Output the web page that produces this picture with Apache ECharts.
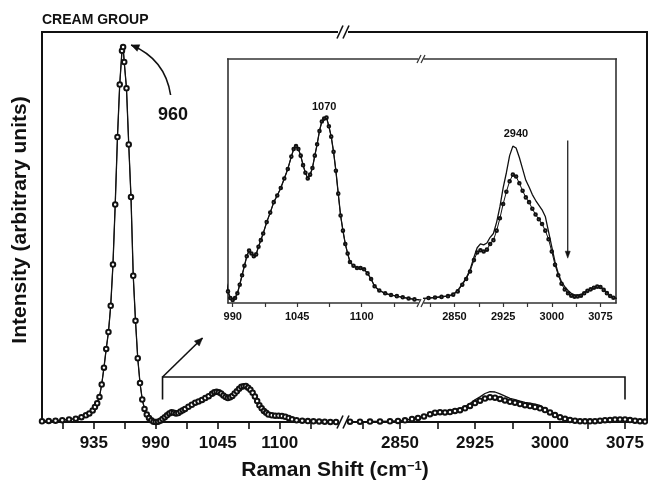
<!DOCTYPE html>
<html><head><meta charset="utf-8">
<script src="https://cdn.jsdelivr.net/npm/echarts@6/dist/echarts.min.js"></script>
<style>html,body{margin:0;padding:0;background:#fff}#c{width:648px;height:480px}</style>
</head><body><div id="c"></div>
<script>
// ---------------- data ----------------
const groupTitle = 'CREAM GROUP';
const yTitle = 'Intensity (arbitrary units)';
const peakLabels = ['960', '1070', '2940'];

// Low-wavenumber segment (both spectra coincide here)
const shiftLow = [889,895,901,907,913,919,924,928,931,934,
  936,938,940,942,944,946,948,950,952,954,
  956,958,960,961,962,964,966,968,970,972,
  974,976,978,980,982,984,986,988,990,992,
  994,996,998,1000,1002,1004,1006,1008,1010,1012,
  1014,1016,1019,1022,1025,1028,1031,1034,1037,1040,
  1042,1044,1046,1048,1050,1052,1054,1056,1058,1060,
  1062,1064,1066,1068,1070,1072,1074,1076,1078,1080,
  1082,1084,1086,1088,1090,1093,1096,1099,1102,1105,
  1108,1111,1115,1120,1125,1130,1135,1140,1145,1150];
const intensityLow = [0.2,0.3,0.35,0.5,0.7,0.9,1.3,1.8,2.3,3.1,
  4.0,5.0,6.7,10,14.5,19.5,24,31,42,58,
  76,90,99,100,96,89,74,60,39,27,
  17,10.4,6,3.5,2,1.1,0.45,0.1,0.0,0.1,
  0.35,0.8,1.3,1.8,2.3,2.6,2.45,2.3,2.4,2.8,
  3.15,3.5,4.1,4.6,5.15,5.5,5.9,6.4,6.9,7.55,
  7.95,8.1,7.95,7.6,7.1,6.7,6.4,6.6,6.95,7.6,
  8.2,8.9,9.4,9.55,9.6,9.15,8.6,7.8,6.8,5.6,
  4.45,3.65,2.95,2.45,2.0,1.8,1.68,1.68,1.62,1.4,
  1.1,0.72,0.5,0.35,0.26,0.2,0.14,0.08,0.03,0.0];

// High-wavenumber segment
const shiftHigh = [2800,2810,2820,2830,2840,2848,2855,2862,2868,2874,
  2880,2885,2890,2895,2900,2905,2910,2915,2920,2925,
  2930,2935,2940,2945,2950,2955,2960,2965,2970,2975,
  2980,2985,2990,2995,3000,3005,3010,3015,3020,3025,
  3030,3035,3040,3045,3050,3055,3060,3065,3070,3075,
  3080,3085,3090,3095,3100];
const intensitySolidHigh = [0.08,0.1,0.13,0.17,0.22,0.3,0.5,0.85,1.15,1.6,
  2.25,2.75,2.95,2.9,3.0,3.3,3.5,4.1,4.9,5.9,
  6.7,7.6,8.1,8.0,7.5,6.9,6.3,5.95,5.55,5.25,
  5.0,4.75,4.4,3.6,2.8,2.0,1.4,0.95,0.7,0.5,
  0.35,0.27,0.27,0.28,0.38,0.5,0.58,0.66,0.72,0.7,
  0.55,0.37,0.22,0.12,0.08];
const intensityMarkedHigh = [0.08,0.1,0.13,0.16,0.2,0.28,0.45,0.8,1.1,1.5,
  2.1,2.5,2.62,2.55,2.65,2.95,3.15,3.65,4.3,5.05,
  5.7,6.25,6.6,6.5,6.15,5.75,5.4,5.15,4.8,4.5,
  4.25,4.0,3.65,3.2,2.55,1.85,1.3,0.85,0.55,0.35,
  0.22,0.17,0.18,0.22,0.35,0.48,0.56,0.64,0.7,0.68,
  0.53,0.36,0.21,0.12,0.08];

// tick labels / tick positions
const mainLabelsLow = [935, 990, 1045, 1100];
const mainTicksLow = [907.5, 935, 962.5, 990, 1017.5, 1045, 1072.5, 1100, 1127.5];
const highLabels = [2850, 2925, 3000, 3075];
const highTicks = [2812.5, 2850, 2887.5, 2925, 2962.5, 3000, 3037.5, 3075];
const insetLabelsLow = [990, 1045, 1100];
const insetTicksLow = [990, 1017.5, 1045, 1072.5, 1100, 1127.5];

// ---------------- chart ----------------
const FONT = '"Liberation Sans", Arial, Helvetica, sans-serif';
const zip = (xs, ys) => xs.map((x, i) => [x, ys[i]]);
const lowData = zip(shiftLow, intensityLow);
const highSolid = zip(shiftHigh, intensitySolidHigh);
const highMarked = zip(shiftHigh, intensityMarkedHigh);

function xAx(grid, min, max, ticks, labels, main) {
  return {
    type: 'value', gridIndex: grid, min: min, max: max, position: 'bottom',
    axisLine: { show: true, onZero: false, lineStyle: { color: main ? '#111' : '#333', width: main ? 2 : 1.6 } },
    axisTick: { show: true, inside: false, length: main ? 7 : 4, customValues: ticks,
      lineStyle: { color: main ? '#111' : '#333', width: main ? 1.6 : 1.2 } },
    axisLabel: { show: true, customValues: labels, margin: main ? 13 : 8, color: '#111',
      fontFamily: FONT, fontWeight: 'bold', fontSize: main ? 17 : 11,
      formatter: v => String(Math.round(v)) },
    splitLine: { show: false }
  };
}
function yAx(grid, min, max, pos, main) {
  return {
    type: 'value', gridIndex: grid, min: min, max: max, position: pos,
    axisLine: { show: true, onZero: false, lineStyle: { color: main ? '#111' : '#333', width: main ? 2 : 1.6 } },
    axisTick: { show: false }, axisLabel: { show: false }, splitLine: { show: false }
  };
}
function lineS(x, y, data, marked, main) {
  return {
    type: 'line', xAxisIndex: x, yAxisIndex: y, data: data, smooth: false,
    showSymbol: marked, symbol: 'emptyCircle', symbolSize: main ? 4.5 : 2.6,
    itemStyle: { color: '#111', borderColor: '#111', borderWidth: main ? 1 : 1.1 },
    lineStyle: { color: '#111', width: marked ? 1 : 1.3 },
    emphasis: { disabled: true }, silent: true, clip: true, z: marked ? 4 : 3
  };
}

const MAIN = { top: 32, height: 390 };
const INSET = { top: 59, height: 244 };
const option = {
  animation: false,
  backgroundColor: '#fff',
  grid: [
    { left: 42, width: 294, top: MAIN.top, height: MAIN.height, outerBoundsMode: 'none' },
    { left: 350, width: 297, top: MAIN.top, height: MAIN.height, outerBoundsMode: 'none' },
    { left: 228, width: 190, top: INSET.top, height: INSET.height, show: true, backgroundColor: '#fff', borderWidth: 0, outerBoundsMode: 'none' },
    { left: 424, width: 192, top: INSET.top, height: INSET.height, show: true, backgroundColor: '#fff', borderWidth: 0, outerBoundsMode: 'none' }
  ],
  xAxis: [
    xAx(0, 889, 1150, mainTicksLow, mainLabelsLow, true),
    xAx(1, 2800, 3097, highTicks, highLabels, true),
    xAx(2, 986, 1148, insetTicksLow, insetLabelsLow, false),
    xAx(3, 2803, 3099, highTicks, highLabels, false)
  ],
  yAxis: [
    yAx(0, 0, 104, 'left', true),
    yAx(1, 0, 104, 'right', true),
    yAx(2, -0.16, 12.69, 'left', false),
    yAx(3, -0.16, 12.69, 'right', false)
  ],
  series: [
    lineS(0, 0, lowData, false, true),
    lineS(0, 0, lowData, true, true),
    lineS(1, 1, highSolid, false, true),
    lineS(1, 1, highMarked, true, true),
    lineS(2, 2, lowData, false, false),
    lineS(2, 2, lowData, true, false),
    lineS(3, 3, highSolid, false, false),
    lineS(3, 3, highMarked, true, false)
  ]
};

const chart = echarts.init(document.getElementById('c'));
chart.setOption(option);

// ---------------- annotations ----------------
const P = (g, x, y) => chart.convertToPixel({ gridIndex: g }, [x, y]);
const G = [];
const stroke = (w, c) => ({ stroke: c || '#111', lineWidth: w, fill: null });
function seg(x1, y1, x2, y2, w, c) {
  G.push({ type: 'line', z: 100, shape: { x1, y1, x2, y2 }, style: stroke(w, c) });
}
function slashes(cx, cy, w, h, sep, lw, c) {
  [-sep / 2, sep / 2].forEach(d => seg(cx + d - w / 2, cy + h / 2, cx + d + w / 2, cy - h / 2, lw, c));
}
function head(tx, ty, fx, fy, len, hw) {
  const dx = tx - fx, dy = ty - fy, L = Math.hypot(dx, dy), ux = dx / L, uy = dy / L;
  const bx = tx - ux * len, by = ty - uy * len;
  G.push({ type: 'polygon', z: 101, shape: { points: [[tx, ty], [bx - uy * hw, by + ux * hw], [bx + uy * hw, by - ux * hw]] },
    style: { fill: '#111', stroke: '#111', lineWidth: 0.5 } });
}
function txt(x, y, text, size, weight, extra) {
  G.push(Object.assign({ type: 'text', z: 102, x: x, y: y,
    style: { text: text, fontFamily: FONT, fontSize: size, fontWeight: weight, fill: '#111',
      align: 'center', verticalAlign: 'middle' } }, extra || {}));
}

// main frame: top border with break
const mTop = MAIN.top;
seg(41, mTop, 338, mTop, 2, '#111');
seg(348, mTop, 648, mTop, 2, '#111');
slashes(343, mTop, 6, 13, 6, 1.6, '#111');
slashes(343, MAIN.top + MAIN.height, 6, 13, 6, 1.6, '#111');
// inset frame: top border with break
const iTop = INSET.top;
seg(227, iTop, 418.5, iTop, 1.6, '#333');
seg(423.5, iTop, 617, iTop, 1.6, '#333');
slashes(421, iTop, 4, 8, 4, 1.2, '#333');
slashes(421, INSET.top + INSET.height, 4, 8, 4, 1.2, '#333');

// titles
G.push({ type: 'text', z: 102, x: 42, y: 20, style: { text: groupTitle, fontFamily: FONT, fontSize: 14,
  fontWeight: 'bold', fill: '#111', align: 'left', verticalAlign: 'middle' } });
txt(20, 220, yTitle, 21, 'bold', { rotation: Math.PI / 2 });
G.push({ type: 'text', z: 102, x: 335, y: 470, style: {
  text: '{n|Raman Shift (cm}{s|\u22121}{n|)}', align: 'center', verticalAlign: 'middle',
  rich: { n: { fontFamily: FONT, fontSize: 21, fontWeight: 'bold', fill: '#111' },
          s: { fontFamily: FONT, fontSize: 13, fontWeight: 'bold', fill: '#111', verticalAlign: 'top' } } } });

// 960 label with curved arrow
const pk = P(0, 961, 100);
const tip = [pk[0] + 8, pk[1] - 2], cst = [pk[0] + 47.5, pk[1] + 48], ctl = [pk[0] + 42, pk[1] + 12];
G.push({ type: 'bezierCurve', z: 100, shape: { x1: cst[0], y1: cst[1], x2: tip[0], y2: tip[1], cpx1: ctl[0], cpy1: ctl[1] },
  style: stroke(1.6) });
head(tip[0], tip[1], ctl[0], ctl[1], 8, 3.5);
txt(pk[0] + 50, pk[1] + 68, peakLabels[0], 18, 'bold');

// bracket linking main plot to inset
const bl = P(0, 996, 12), blf = P(0, 996, 6), br = P(1, 3075, 12), brf = P(1, 3075, 6);
G.push({ type: 'polyline', z: 100, shape: { points: [blf, bl, br, brf] }, style: stroke(1.6) });
const aEnd = [bl[0] + 40, bl[1] - 39];
seg(bl[0], bl[1], aEnd[0], aEnd[1], 1.6);
head(aEnd[0], aEnd[1], bl[0], bl[1], 8, 3.5);

// inset labels and down arrow
const l1 = P(2, 1068, 10.15); txt(l1[0], l1[1], peakLabels[1], 11, 'bold');
const l2 = P(3, 2944.8, 8.73); txt(l2[0], l2[1], peakLabels[2], 11, 'bold');
const d1 = P(3, 3024.6, 8.4), d2 = P(3, 3024.6, 2.2);
seg(d1[0], d1[1], d2[0], d2[1] - 5, 1.2);
head(d2[0], d2[1], d1[0], d1[1], 7, 2.5);

chart.setOption({ graphic: { elements: G } });
</script></body></html>
